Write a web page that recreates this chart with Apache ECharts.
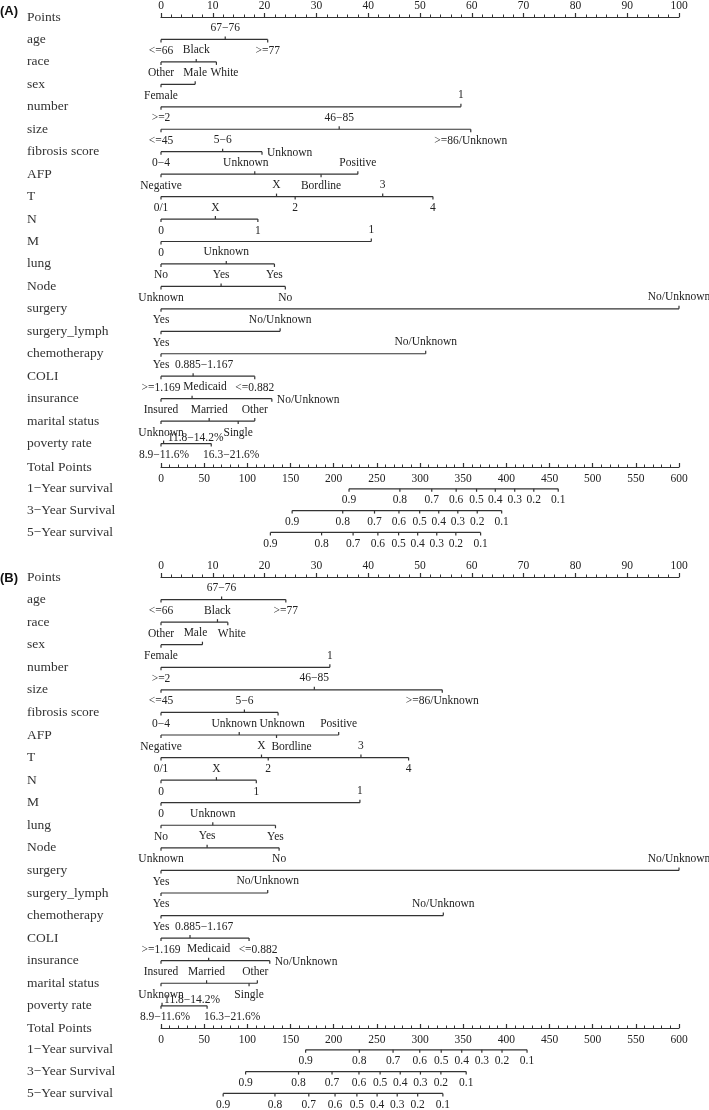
<!DOCTYPE html>
<html><head><meta charset="utf-8">
<script src="https://cdn.jsdelivr.net/npm/echarts@6/dist/echarts.min.js"></script>
<style>html,body{margin:0;padding:0;background:#fff}#c{width:709px;height:1110px}</style>
</head><body><div id="c"></div>
<script>
// ---------- DATA ----------
const rowNames = ['Points','age','race','sex','number','size','fibrosis score','AFP','T','N','M','lung','Node','surgery','surgery_lymph','chemotherapy','COLI','insurance','marital status','poverty rate'];
const outcomeNames = ['Total Points','1\u2212Year survival','3\u2212Year Survival','5\u2212Year survival'];

const ageLevels = ['<=66','67\u221276','>=77'];
const raceLevels = ['Other','Black','White'];
const sexLevels = ['Female','Male'];
const numberLevels = ['>=2','1'];
const sizeLevels = ['<=45','46\u221285','>=86/Unknown'];
const fibrosisLevels = ['0\u22124','5\u22126','Unknown'];
const afpLevels = ['Negative','Unknown','Bordline','Positive'];
const tLevels = ['0/1','X','2','3','4'];
const nLevels = ['0','X','1'];
const mLevels = ['0','1'];
const lungLevels = ['No','Unknown','Yes'];
const nodeLevels = ['Unknown','Yes','No'];
const surgeryLevels = ['Yes','No/Unknown'];
const surgLymphLevels = ['Yes','No/Unknown'];
const chemoLevels = ['Yes','No/Unknown'];
const coliLevels = ['>=1.169','0.885\u22121.167','<=0.882'];
const insuranceLevels = ['Insured','Medicaid','No/Unknown'];
const maritalLevels = ['Unknown','Married','Single','Other'];
const povertyLevels = ['8.9\u221211.6%','11.8\u221214.2%','16.3\u221221.6%'];

// Panel A points
const ageA = [0, 12.4, 20.6];
const raceA = [0, 6.8, 10.7];
const sexA = [0, 6.6];
const numberA = [0, 57.9];
const sizeA = [0, 34.4, 59.8];
const fibrosisA = [0, 11.9, 19.5];
const afpA = [0, 18.1, 30.9, 38.0];
const tA = [0, 22.3, 25.9, 42.8, 52.5];
const nA = [0, 10.5, 18.7];
const mA = [0, 40.6];
const lungA = [0, 12.6, 21.9];
const nodeA = [0, 11.6, 24.0];
const surgeryA = [0, 100];
const surgLymphA = [0, 23.0];
const chemoA = [0, 51.1];
const coliA = [0, 6.2, 18.1];
const insuranceA = [0, 6.0, 21.4];
const maritalA = [0, 9.3, 14.9, 18.1];
const povertyA = [0, 0.5, 9.7];

// Panel B points
const ageB = [0, 11.7, 24.1];
const raceB = [0, 10.9, 12.9];
const sexB = [0, 8.0];
const numberB = [0, 32.6];
const sizeB = [0, 29.6, 54.3];
const fibrosisB = [0, 16.1, 22.6];
const afpB = [0, 15.1, 22.3, 34.3];
const tB = [0, 19.4, 20.7, 38.6, 47.8];
const nB = [0, 10.7, 18.4];
const mB = [0, 38.4];
const lungB = [0, 10.0, 22.1];
const nodeB = [0, 8.9, 22.8];
const surgeryB = [0, 100];
const surgLymphB = [0, 20.6];
const chemoB = [0, 54.5];
const coliB = [0, 5.6, 17.0];
const insuranceB = [0, 9.2, 21.0];
const maritalB = [0, 8.8, 17.0, 18.6];
const povertyB = [0, 0.2, 8.9];

// Survival scales (total points at each probability)
const survLabels = ['0.9','0.8','0.7','0.6','0.5','0.4','0.3','0.2','0.1'];
const surv1A = [217.8, 276.7, 313.6, 341.9, 365.5, 387.2, 409.7, 431.8, 460.1];
const surv3A = [151.9, 210.5, 247.3, 275.6, 299.6, 321.7, 343.8, 366.3, 394.6];
const surv5A = [126.7, 186.0, 222.5, 251.2, 275.2, 297.3, 319.4, 341.5, 370.2];
const surv1B = [167.5, 229.7, 268.8, 299.7, 324.6, 348.3, 371.6, 395.0, 424.0];
const surv3B = [98.0, 159.3, 198.1, 229.3, 253.8, 277.1, 300.5, 324.2, 353.5];
const surv5B = [72.0, 132.0, 171.2, 201.6, 226.9, 250.3, 273.6, 297.3, 326.5];

// ---------- ASSEMBLY ----------
const levelLists = [ageLevels, raceLevels, sexLevels, numberLevels, sizeLevels, fibrosisLevels, afpLevels, tLevels, nLevels, mLevels, lungLevels, nodeLevels, surgeryLevels, surgLymphLevels, chemoLevels, coliLevels, insuranceLevels, maritalLevels, povertyLevels];
const ptsA = [ageA, raceA, sexA, numberA, sizeA, fibrosisA, afpA, tA, nA, mA, lungA, nodeA, surgeryA, surgLymphA, chemoA, coliA, insuranceA, maritalA, povertyA];
const ptsB = [ageB, raceB, sexB, numberB, sizeB, fibrosisB, afpB, tB, nB, mB, lungB, nodeB, surgeryB, surgLymphB, chemoB, coliB, insuranceB, maritalB, povertyB];
const survA = [surv1A, surv3A, surv5A];
const survB = [surv1B, surv3B, surv5B];

// ---------- LAYOUT / STYLE ----------
const LINE = '#333', TXT = '#222', LW = 1.2, TICK = 3, LABOFF = 11.5;
const SERIF = '"Liberation Serif", "DejaVu Serif", serif';
const TICKFONT = 11.5, ROWFONT = 13.5;
// label horizontal nudges (px) by variable index -> per level
const shiftA = {1: [0,0,8], 6: [0,-9,0,0], 15: [0,11,0], 16: [0,13,0], 18: [3,32,20]};
const shiftB = {1: [0,0,4], 2: [0,-7], 5: [0,0,4], 6: [0,-5,15,0], 15: [0,14,9], 17: [0,0,0,-2], 18: [4,30,25]};
// label distance overrides (px from line)
const distA = {18: [LABOFF, 6, LABOFF]};
const distB = {18: [LABOFF, 6, LABOFF]};
const rightA = {5: 2, 16: 2};
const rightB = {16: 2};

const chart = echarts.init(document.getElementById('c'), null, {renderer: 'canvas'});

function varRender(ptsList, shifts, dists, rights) {
  return function (params, api) {
    const i = params.dataIndex;
    const row = i + 1;
    const lv = levelLists[i], pts = ptsList[i];
    const y = api.coord([0, row])[1];
    const xs = pts.map(p => api.coord([p, row])[0]);
    const children = [{
      type: 'line', shape: {x1: Math.min(...xs), y1: y, x2: Math.max(...xs), y2: y},
      style: {stroke: LINE, lineWidth: LW}
    }];
    pts.forEach((p, k) => {
      const dir = k % 2 === 0 ? 1 : -1;
      const x = xs[k];
      children.push({type: 'line', shape: {x1: x, y1: y, x2: x, y2: y + dir * TICK}, style: {stroke: LINE, lineWidth: LW}});
      const sh = (shifts[i] && shifts[i][k]) || 0;
      const dist = (dists[i] && dists[i][k]) || LABOFF;
      const isRight = rights[i] === k;
      children.push({
        type: 'text', x: isRight ? x + 5 : x + sh, y: isRight ? y + 1 : y + dir * dist,
        style: {text: lv[k], fill: TXT, fontSize: TICKFONT, fontFamily: SERIF,
          align: isRight ? 'left' : 'center', verticalAlign: 'middle'}
      });
    });
    return {type: 'group', children};
  };
}

function survRender(survList) {
  return function (params, api) {
    const i = params.dataIndex;
    const row = i + 1;
    const vals = survList[i];
    const y = api.coord([0, row])[1];
    const xs = vals.map(v => api.coord([v, row])[0]);
    const children = [{
      type: 'line', shape: {x1: Math.min(...xs), y1: y, x2: Math.max(...xs), y2: y},
      style: {stroke: LINE, lineWidth: LW}
    }];
    xs.forEach((x, k) => {
      children.push({type: 'line', shape: {x1: x, y1: y, x2: x, y2: y + TICK}, style: {stroke: LINE, lineWidth: LW}});
      children.push({type: 'text', x: x, y: y + LABOFF,
        style: {text: survLabels[k], fill: TXT, fontSize: TICKFONT, fontFamily: SERIF, align: 'center', verticalAlign: 'middle'}});
    });
    return {type: 'group', children};
  };
}

const GL = 161, GW = 518;
const panels = [
  {top1: 17, step1: 22.45, top2: 467, step2: 21.8, pts: ptsA, surv: survA, shift: shiftA, dist: distA, right: rightA},
  {top1: 577, step1: 22.57, top2: 1028, step2: 21.8, pts: ptsB, surv: survB, shift: shiftB, dist: distB, right: rightB}
];

const grid = [], xAxis = [], yAxis = [], series = [];
const axisLabelBase = {color: TXT, fontSize: TICKFONT, fontFamily: SERIF};
const yLabel = {show: true, interval: 0, align: 'left', margin: GL - 27, color: '#333', fontSize: ROWFONT, fontFamily: SERIF};

panels.forEach((p, pi) => {
  const g1 = grid.length;
  grid.push({left: GL, width: GW, top: p.top1, height: p.step1 * 19});
  grid.push({left: GL, width: GW, top: p.top2, height: p.step2 * 3});
  const x1 = xAxis.length;
  xAxis.push({
    gridIndex: g1, type: 'value', min: 0, max: 100, interval: 10, position: 'top',
    axisLine: {show: true, lineStyle: {color: LINE, width: LW}},
    axisTick: {show: true, length: 4, inside: false, lineStyle: {color: LINE, width: LW}},
    minorTick: {show: true, splitNumber: 5, length: 2.5, lineStyle: {color: LINE, width: 1}},
    axisLabel: Object.assign({margin: 5}, axisLabelBase),
    splitLine: {show: false}, minorSplitLine: {show: false}
  });
  xAxis.push({
    gridIndex: g1 + 1, type: 'value', min: 0, max: 600, interval: 50, position: 'top',
    axisLine: {show: true, lineStyle: {color: LINE, width: LW}},
    axisTick: {show: true, length: 4, inside: false, lineStyle: {color: LINE, width: LW}},
    minorTick: {show: true, splitNumber: 5, length: 2.5, lineStyle: {color: LINE, width: 1}},
    axisLabel: Object.assign({margin: 6, inside: true}, axisLabelBase),
    splitLine: {show: false}, minorSplitLine: {show: false}
  });
  const y1 = yAxis.length;
  yAxis.push({gridIndex: g1, type: 'category', data: rowNames, inverse: true, boundaryGap: false,
    axisLine: {show: false}, axisTick: {show: false}, splitLine: {show: false}, axisLabel: yLabel});
  yAxis.push({gridIndex: g1 + 1, type: 'category', data: outcomeNames, inverse: true, boundaryGap: false,
    axisLine: {show: false}, axisTick: {show: false}, splitLine: {show: false}, axisLabel: yLabel});

  series.push({
    type: 'custom', xAxisIndex: x1, yAxisIndex: y1, clip: false, silent: true,
    renderItem: varRender(p.pts, p.shift, p.dist, p.right),
    data: p.pts.map((arr, i) => [0, i + 1]), encode: {x: 0, y: 1}
  });
  series.push({
    type: 'custom', xAxisIndex: x1 + 1, yAxisIndex: y1 + 1, clip: false, silent: true,
    renderItem: survRender(p.surv),
    data: p.surv.map((arr, i) => [0, i + 1]), encode: {x: 0, y: 1}
  });
});

chart.setOption({
  animation: false,
  backgroundColor: '#fff',
  title: [
    {text: '(A)', left: 0, top: 5, padding: 0, textStyle: {fontSize: 13, fontWeight: 'bold', fontFamily: '"Liberation Sans", Arial, sans-serif', color: '#111'}},
    {text: '(B)', left: 0, top: 572, padding: 0, textStyle: {fontSize: 13, fontWeight: 'bold', fontFamily: '"Liberation Sans", Arial, sans-serif', color: '#111'}}
  ],
  grid, xAxis, yAxis, series
});
</script>
</body></html>
